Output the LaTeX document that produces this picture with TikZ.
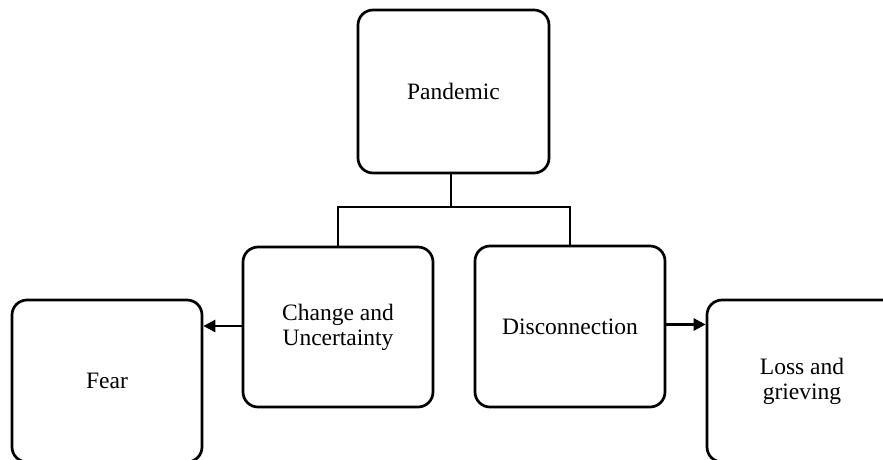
\documentclass[tikz,border=0pt]{standalone}
\usepackage{fontspec}
\setmainfont{Liberation Serif}
\usetikzlibrary{arrows.meta}
\begin{document}
\begin{tikzpicture}[x=1pt,y=-1pt,
  box/.style={draw=black, line width=2.7pt, rounded corners=15pt, rectangle,
    minimum width=190pt, minimum height=162pt, inner sep=0pt, align=center,
    font=\fontsize{23.5}{25}\selectfont},
  conn/.style={line width=2.7pt},
  arr/.style={line width=2.7pt, -{Triangle[length=12pt,width=12pt]}}]
\useasboundingbox (0,0) rectangle (883,459);
\clip (0,0) rectangle (883,459);
\node[box, minimum width=191pt, minimum height=163pt] (pan) at (453.5,91.5) {Pandemic};
\node[box, minimum height=160pt] (change) at (338,327) {Change and\\Uncertainty};
\node[box, minimum height=161pt] (disc) at (570,326.5) {Disconnection};
\node[box] (fear) at (107,381) {Fear};
\node[box] (loss) at (802,381) {Loss and\\grieving};
\coordinate (bus) at (451,207);
\draw[conn] (pan.south -| bus) -- (bus);
\draw[conn] (change.north) |- (bus) -| (disc.north);
\draw[arr] ([yshift=1pt]change.west) -- ([yshift=1pt]change.west -| fear.east);
\draw[arr] ([yshift=2pt]disc.east) -- ([yshift=2pt]disc.east -| loss.west);
\end{tikzpicture}
\end{document}
